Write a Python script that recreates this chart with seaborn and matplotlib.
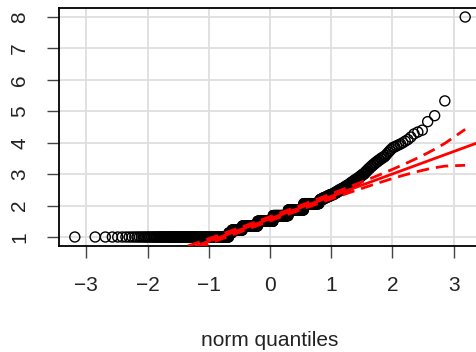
import numpy as np
import pandas as pd
import seaborn as sns
import matplotlib.pyplot as plt
from statistics import NormalDist

# 样本取值及个数 (从图上读出, 700 个点)
levels_low = [1.0, 1.13, 1.22, 1.35, 1.5, 1.68, 1.86, 2.06]
counts_low = [175, 12, 41, 66, 70, 68, 64, 56]
levels_mid = [2.15, 2.20, 2.25, 2.30, 2.35, 2.40, 2.45, 2.50, 2.55, 2.60, 2.65,
              2.70, 2.75, 2.80, 2.85, 2.90, 2.95, 3.00, 3.05, 3.10, 3.15, 3.20,
              3.25, 3.30, 3.35, 3.40, 3.45, 3.50, 3.55, 3.60, 3.65, 3.70, 3.75,
              3.80, 3.85]
counts_mid = [4, 10, 10, 10, 10, 7, 6, 7, 6, 5, 5, 4, 4, 4, 4, 3, 3, 3,
              2, 2, 2, 2, 2, 2, 2, 2, 2, 2, 2, 1, 1, 1, 1, 1, 1]
tail_values = [3.87, 3.90, 3.93, 3.96, 4.00, 4.05, 4.10, 4.18, 4.28, 4.34,
               4.40, 4.67, 4.86, 5.33, 8.0]
x_ticks = [-3, -2, -1, 0, 1, 2, 3]
y_ticks = [1, 2, 3, 4, 5, 6, 7, 8]
conf_level = 0.95

# 排序后的样本
sample = np.sort(np.concatenate([np.repeat(levels_low, counts_low),
                                 np.repeat(levels_mid, counts_mid),
                                 tail_values]))
n = len(sample)
nd = NormalDist()
P = (np.arange(1, n + 1) - 0.5) / n  # ppoints
z = np.array([nd.inv_cdf(p) for p in P])  # 理论分位数

# 四分位数拟合直线 (同 car::qqPlot)
q1, q3 = np.quantile(sample, [0.25, 0.75])
z1, z3 = nd.inv_cdf(0.25), nd.inv_cdf(0.75)
b = (q3 - q1) / (z3 - z1)
a = q1 - b * z1
# 置信带
zz = nd.inv_cdf(1 - (1 - conf_level) / 2)
se = b / np.array([nd.pdf(v) for v in z]) * np.sqrt(P * (1 - P) / n)
fit = a + b * z
df = pd.DataFrame({'z': z, 'sample': sample, 'upper': fit + zz * se, 'lower': fit - zz * se})

sns.set_style('white')
plt.rcParams['font.family'] = ['Liberation Sans', 'DejaVu Sans']

fig = plt.figure(figsize=(4.77, 3.52), dpi=100)
ax = fig.add_axes([59.2 / 477, 1 - 245.8 / 352, 421.6 / 477, 237.6 / 352])

# 散点 (空心圆)
sns.scatterplot(data=df, x='z', y='sample', ax=ax, marker='o', s=52,
                facecolor='none', edgecolor='black', linewidth=1.0, zorder=3)
# 拟合线和置信带
ax.axline((0, a), slope=b, color='red', lw=2, zorder=4)
for col in ['upper', 'lower']:
    sns.lineplot(data=df, x='z', y=col, ax=ax, color='red', lw=2,
                 linestyle=(0, (4.5, 2.5)), sort=False, errorbar=None, zorder=4)

# 坐标范围 (R 默认两端各留 4%)
zr = z.max() - z.min()
yr = sample.max() - sample.min()
ax.set_xlim(z.min() - 0.04 * zr, z.max() + 0.04 * zr)
ax.set_ylim(sample.min() - 0.04 * yr, sample.max() + 0.04 * yr)

ax.set_xticks(x_ticks)
ax.set_yticks(y_ticks)
ax.set_yticklabels([str(v) for v in y_ticks], rotation=90, va='center')
ax.tick_params(length=8.6, width=1, color='#444444', pad=13, labelsize=15,
               labelcolor='#222222', bottom=True, left=True)
ax.grid(True, color='#DEDEDE', lw=1.3)
ax.set_axisbelow(True)
for s in ax.spines.values():
    s.set_color('black')
    s.set_linewidth(1.3)
ax.set_xlabel('norm quantiles', fontsize=15, labelpad=26, color='#222222')
ax.set_ylabel('')

fig.savefig('out.png', dpi=100)
